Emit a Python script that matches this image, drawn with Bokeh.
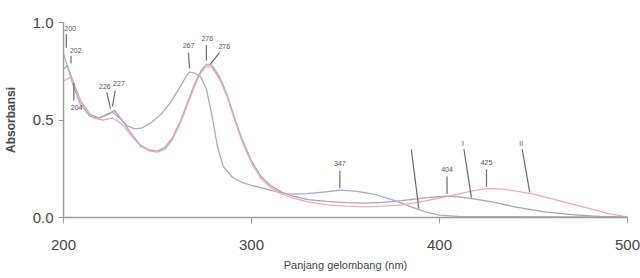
import numpy as np
from bokeh.plotting import figure
from bokeh.models import Range1d, FixedTicker, PrintfTickFormatter
from bokeh.embed import file_html
from bokeh.resources import INLINE
from bokeh.core.properties import value

# ---- data ----
wl_a = [200, 202, 205, 209, 214, 219, 223, 226, 230, 234, 238, 242, 247, 252, 257, 262,
        265, 267, 270, 273, 276, 279, 282, 285, 290, 295, 300, 306, 312, 320, 330, 340,
        347, 355, 365, 375, 385, 392, 400, 410, 430, 460, 500]
abs_a = [0.84, 0.78, 0.68, 0.58, 0.52, 0.51, 0.53, 0.54, 0.51, 0.47, 0.455, 0.46, 0.49, 0.53, 0.59, 0.67,
         0.72, 0.745, 0.74, 0.72, 0.66, 0.52, 0.36, 0.26, 0.205, 0.18, 0.165, 0.15, 0.135, 0.12, 0.122, 0.132,
         0.14, 0.135, 0.12, 0.09, 0.055, 0.03, 0.012, 0.006, 0.004, 0.003, 0.002]

wl_b = [200, 202, 205, 209, 214, 219, 224, 227, 231, 236, 241, 246, 250, 254, 258, 262,
        266, 270, 273, 276, 279, 283, 287, 291, 295, 300, 305, 310, 316, 322, 330, 340,
        350, 360, 370, 380, 390, 398, 404, 410, 418, 428, 440, 455, 470, 485, 500]
abs_b = [0.76, 0.78, 0.70, 0.60, 0.53, 0.51, 0.53, 0.55, 0.50, 0.43, 0.37, 0.345, 0.34, 0.36, 0.41, 0.49,
         0.59, 0.69, 0.75, 0.785, 0.78, 0.72, 0.63, 0.51, 0.40, 0.29, 0.21, 0.165, 0.13, 0.11, 0.092, 0.083,
         0.076, 0.074, 0.078, 0.087, 0.098, 0.106, 0.11, 0.106, 0.096, 0.08, 0.055, 0.03, 0.015, 0.006, 0.002]

wl_c = [200, 204, 207, 211, 216, 221, 226, 231, 236, 241, 246, 250, 254, 258, 262, 266,
        270, 273, 276, 279, 283, 287, 291, 295, 300, 305, 310, 316, 322, 330, 340, 350,
        360, 370, 380, 390, 400, 410, 418, 425, 432, 440, 450, 460, 470, 480, 490, 500]
abs_c = [0.70, 0.72, 0.64, 0.56, 0.51, 0.50, 0.51, 0.48, 0.42, 0.365, 0.34, 0.335, 0.35, 0.40, 0.48, 0.58,
         0.68, 0.74, 0.775, 0.77, 0.71, 0.62, 0.50, 0.39, 0.28, 0.20, 0.155, 0.12, 0.10, 0.08, 0.065, 0.058,
         0.055, 0.058, 0.065, 0.08, 0.10, 0.12, 0.138, 0.148, 0.147, 0.137, 0.12, 0.095, 0.07, 0.045, 0.02, 0.003]

# peak labels: (curve, wavelength, text)
peak_curve = ["a", "b", "c", "a", "b", "a", "b", "c", "a", "b", "c"]
peak_wl = [200, 202, 204, 226, 227, 267, 276, 276, 347, 404, 425]
peak_text = ["200", "202", "204", "226", "227", "267", "276", "276", "347", "404", "425"]

# curve identifier leaders
ident_curve = ["a", "b", "c"]
ident_wl = [389, 417, 448]
ident_text = ["", "I", "II"]

x_ticks = [200, 300, 400, 500]
y_ticks = [0.0, 0.5, 1.0]

# ---- layout of annotations (style only) ----
# (tick x0 dx, tick y0 dy, tick x1 dx, tick y1 dy, label dx, label dy)
ann_layout = [
    (1.5, 0.03, 1.5, 0.10, 3.5, 0.13),
    (2.0, 0.01, 2.0, 0.05, 4.5, 0.075),
    (1.5, -0.03, 1.5, -0.12, 3.0, -0.155),
    (-1.0, 0.02, -3.0, 0.10, -4.0, 0.13),
    (-1.0, 0.02, 0.5, 0.10, 2.5, 0.135),
    (0.0, 0.02, -0.5, 0.10, -0.5, 0.135),
    (0.0, 0.02, 0.0, 0.10, 0.5, 0.135),
    (2.0, 0.01, 7.0, 0.07, 9.5, 0.10),
    (0.0, 0.01, 0.0, 0.10, 0.0, 0.135),
    (0.0, 0.01, 0.0, 0.10, 0.0, 0.135),
    (0.0, 0.01, 0.0, 0.10, 0.0, 0.135),
]

curves = {"a": (wl_a, abs_a), "b": (wl_b, abs_b), "c": (wl_c, abs_c)}

p = figure(width=640, height=276, output_backend="svg", toolbar_location=None,
           x_range=Range1d(200, 500), y_range=Range1d(0, 1.0),
           min_border_left=62, min_border_right=13, min_border_top=22, min_border_bottom=59)
p.grid.visible = False
p.outline_line_color = None
p.background_fill_color = "white"

line_styles = {"a": ("#a9abc4", 1.3), "b": ("#a6a6ae", 1.3), "c": ("#e9adbe", 1.3)}
for key in ["b", "a", "c"]:
    xs, ys = curves[key]
    col, w = line_styles[key]
    p.line(xs, ys, line_color=col, line_width=w)

# peak annotations
sx0, sy0, sx1, sy1, lx, ly, lt = [], [], [], [], [], [], []
for cv, wl, txt, lay in zip(peak_curve, peak_wl, peak_text, ann_layout):
    xs, ys = curves[cv]
    yv = float(np.interp(wl, xs, ys))
    sx0.append(wl + lay[0]); sy0.append(yv + lay[1])
    sx1.append(wl + lay[2]); sy1.append(yv + lay[3])
    lx.append(wl + lay[4]); ly.append(yv + lay[5]); lt.append(txt)
p.segment(sx0, sy0, sx1, sy1, line_color="#6a6a6a", line_width=1.2)
p.text(lx, ly, text=lt, text_font=value("Liberation Sans"), text_font_size="7px",
       text_color="#555555", text_align="center", text_baseline="middle")

# identifier leaders
ix0, iy0, ix1, iy1, itx, ity, itt = [], [], [], [], [], [], []
for cv, wl, txt in zip(ident_curve, ident_wl, ident_text):
    xs, ys = curves[cv]
    yv = float(np.interp(wl, xs, ys))
    ix0.append(wl - 4); iy0.append(0.35)
    ix1.append(wl); iy1.append(yv + 0.005)
    itx.append(wl - 4.5); ity.append(0.38); itt.append(txt)
p.segment(ix0, iy0, ix1, iy1, line_color="#6a6a6a", line_width=1.2)
p.text(itx, ity, text=itt, text_font=value("Liberation Sans"), text_font_size="7px",
       text_color="#555555", text_align="center", text_baseline="middle")

for ax in (p.xaxis[0], p.yaxis[0]):
    ax.axis_line_color = "#9c9c9c"
    ax.axis_line_width = 1.5
    ax.major_tick_line_color = "#9c9c9c"
    ax.minor_tick_line_color = None
    ax.major_tick_in = 0
    ax.major_label_text_font = "Liberation Sans"
    ax.major_label_text_color = "#454545"
    ax.major_label_text_font_size = "15px"
    ax.axis_label_text_font = "Liberation Sans"
    ax.axis_label_text_color = "#454545"
    ax.axis_label_text_font_style = "normal"

p.xaxis[0].ticker = FixedTicker(ticks=x_ticks)
p.xaxis[0].major_tick_out = 6
p.xaxis[0].major_label_standoff = 16
p.xaxis[0].axis_label = "Panjang gelombang (nm)"
p.xaxis[0].axis_label_text_font_size = "11px"
p.xaxis[0].axis_label_standoff = 6

p.yaxis[0].ticker = FixedTicker(ticks=y_ticks)
p.yaxis[0].formatter = PrintfTickFormatter(format="%.1f")
p.yaxis[0].major_tick_out = 5
p.yaxis[0].major_label_standoff = 5
p.yaxis[0].axis_label = "Absorbansi"
p.yaxis[0].axis_label_text_font_size = "12px"
p.yaxis[0].axis_label_text_font_style = "bold"
p.yaxis[0].axis_label_standoff = 12

open("out.html", "w").write(file_html(p, INLINE))
